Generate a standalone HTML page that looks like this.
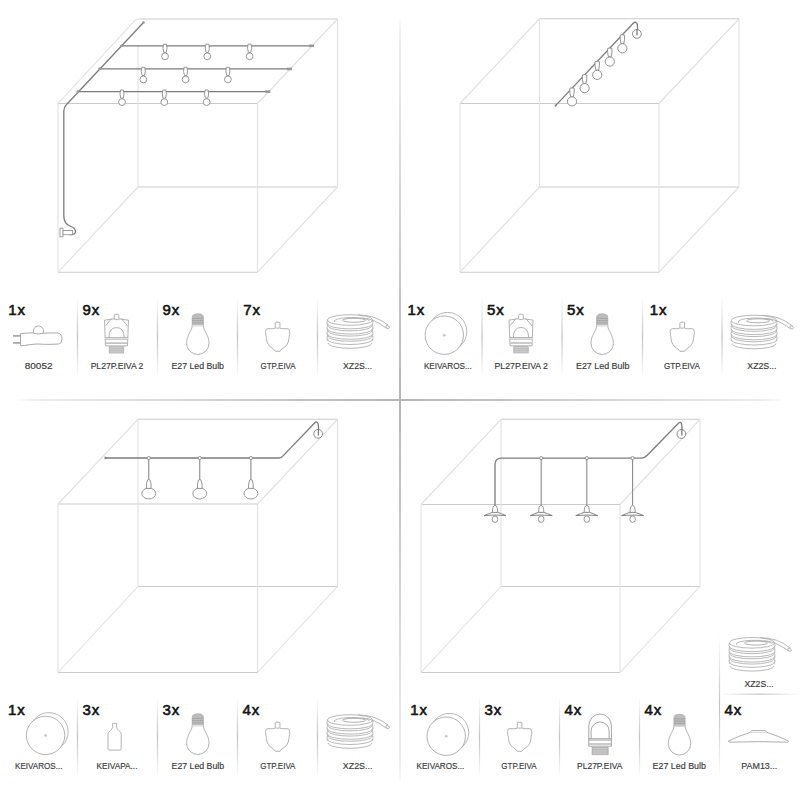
<!DOCTYPE html><html><head><meta charset="utf-8"><style>html,body{margin:0;padding:0;background:#fff;width:800px;height:800px;overflow:hidden}svg{display:block}.c{font-family:"Liberation Sans",sans-serif;font-size:15px;fill:#151515;stroke:#151515;stroke-width:0.6px;letter-spacing:0.9px}.l{font-family:"Liberation Sans",sans-serif;font-size:8.7px;fill:#383838;stroke:#383838;stroke-width:0.15px}</style></head><body>
<svg width="800" height="800" viewBox="0 0 800 800">
<defs><linearGradient id="gV" x1="0" y1="0" x2="0" y2="1"><stop offset="0" stop-color="#fcfcfc"/><stop offset="0.025" stop-color="#ededed"/><stop offset="0.107" stop-color="#e4e4e4"/><stop offset="0.5" stop-color="#b6b6b6"/><stop offset="0.893" stop-color="#e4e4e4"/><stop offset="0.975" stop-color="#ededed"/><stop offset="1" stop-color="#fcfcfc"/></linearGradient><linearGradient id="gH" x1="0" y1="0" x2="1" y2="0"><stop offset="0" stop-color="#fcfcfc"/><stop offset="0.025" stop-color="#ededed"/><stop offset="0.107" stop-color="#e4e4e4"/><stop offset="0.5" stop-color="#b6b6b6"/><stop offset="0.893" stop-color="#e4e4e4"/><stop offset="0.975" stop-color="#ededed"/><stop offset="1" stop-color="#fcfcfc"/></linearGradient><linearGradient id="gv" x1="0" y1="0" x2="0" y2="1"><stop offset="0" stop-color="#fff"/><stop offset="0.5" stop-color="#c2c2c2"/><stop offset="1" stop-color="#fff"/></linearGradient><linearGradient id="gh" x1="0" y1="0" x2="1" y2="0"><stop offset="0" stop-color="#fff"/><stop offset="0.5" stop-color="#c2c2c2"/><stop offset="1" stop-color="#fff"/></linearGradient></defs>
<rect width="800" height="800" fill="#fff"/>
<path d="M337.5 19 H139.5 M138 187 H337.5 M58 103.5 H257.5 M58 272.2 H257.5" stroke="#cbcbcb" stroke-width="1.1" fill="none"/>
<path d="M138 45 V187 M337.5 19 V187 M58 103.5 V272.2 M257.5 103.5 V272.2" stroke="#e2e2e2" stroke-width="1.1" fill="none"/>
<path d="M58 103.5 L134.5 21 Q136.5 19 139.5 19 M257.5 103.5L337.5 19M58 272.2L138 187M257.5 272.2L337.5 187" stroke="#e0e0e0" stroke-width="1.1" fill="none"/>
<path d="M539.5 18.75 H739 M539.5 187 H739 M460 103.5 H659 M460 272.2 H659" stroke="#cbcbcb" stroke-width="1.1" fill="none"/>
<path d="M539.5 18.75 V187 M739 18.75 V187 M460 103.5 V272.2 M659 103.5 V272.2" stroke="#e2e2e2" stroke-width="1.1" fill="none"/>
<path d="M460 103.5L539.5 18.75M659 103.5L739 18.75M460 272.2L539.5 187M659 272.2L739 187" stroke="#e0e0e0" stroke-width="1.1" fill="none"/>
<path d="M138 419.3 H337.5 M138 586.5 H337.5 M58 504 H257.5 M58 672.5 H257.5" stroke="#cbcbcb" stroke-width="1.1" fill="none"/>
<path d="M138 419.3 V586.5 M337.5 419.3 V586.5 M58 504 V672.5 M257.5 504 V672.5" stroke="#e2e2e2" stroke-width="1.1" fill="none"/>
<path d="M58 504L138 419.3M257.5 504L337.5 419.3M58 672.5L138 586.5M257.5 672.5L337.5 586.5" stroke="#e0e0e0" stroke-width="1.1" fill="none"/>
<path d="M501 419.3 H700 M501 586.5 H700 M421 504.5 H620 M421 672.5 H620" stroke="#cbcbcb" stroke-width="1.1" fill="none"/>
<path d="M501 419.3 V586.5 M700 419.3 V586.5 M421 504.5 V672.5 M620 504.5 V672.5" stroke="#e2e2e2" stroke-width="1.1" fill="none"/>
<path d="M421 504.5L501 419.3M620 504.5L700 419.3M421 672.5L501 586.5M620 672.5L700 586.5" stroke="#e0e0e0" stroke-width="1.1" fill="none"/>
<g fill="none" stroke="#7c7c7c" stroke-width="1.3" stroke-linecap="round">
<path d="M143.5 22.5 L66.5 104.5 Q63.8 107.5 63.8 111 L63.8 216 Q64 224 70 226 Q75.5 228 75.5 231.5 Q75.5 235 70 234.5"/>
<path d="M121.5 45.8 H313 M99.5 68.9 H291.5 M77.8 91.6 H269.5"/>
</g>
<rect x="309.0" y="44.5" width="5" height="2.6" fill="#999"/>
<rect x="287.0" y="67.60000000000001" width="5" height="2.6" fill="#999"/>
<rect x="265.3" y="90.3" width="5" height="2.6" fill="#999"/>
<circle cx="121.5" cy="45.8" r="1.3" fill="#999"/>
<circle cx="99.5" cy="68.9" r="1.3" fill="#999"/>
<circle cx="77.8" cy="91.6" r="1.3" fill="#999"/>
<circle cx="143.5" cy="22.5" r="1.3" fill="#999"/>
<g fill="#fff" stroke="#8a8a8a" stroke-width="0.9"><path d="M163.5 44.199999999999996 H166.5 Q167.7 48.3 166.2 52.4 H163.8 Q162.3 48.3 163.5 44.199999999999996 Z"/><circle cx="165.0" cy="56.3" r="3.4"/></g>
<g fill="#fff" stroke="#8a8a8a" stroke-width="0.9"><path d="M205.8 44.199999999999996 H208.8 Q210.0 48.3 208.5 52.4 H206.10000000000002 Q204.60000000000002 48.3 205.8 44.199999999999996 Z"/><circle cx="207.3" cy="56.3" r="3.4"/></g>
<g fill="#fff" stroke="#8a8a8a" stroke-width="0.9"><path d="M248.1 44.199999999999996 H251.1 Q252.29999999999998 48.3 250.79999999999998 52.4 H248.4 Q246.9 48.3 248.1 44.199999999999996 Z"/><circle cx="249.6" cy="56.3" r="3.4"/></g>
<g fill="#fff" stroke="#8a8a8a" stroke-width="0.9"><path d="M141.8 67.30000000000001 H144.8 Q146.0 71.4 144.5 75.5 H142.10000000000002 Q140.60000000000002 71.4 141.8 67.30000000000001 Z"/><circle cx="143.3" cy="79.4" r="3.4"/></g>
<g fill="#fff" stroke="#8a8a8a" stroke-width="0.9"><path d="M184.10000000000002 67.30000000000001 H187.10000000000002 Q188.3 71.4 186.8 75.5 H184.40000000000003 Q182.90000000000003 71.4 184.10000000000002 67.30000000000001 Z"/><circle cx="185.60000000000002" cy="79.4" r="3.4"/></g>
<g fill="#fff" stroke="#8a8a8a" stroke-width="0.9"><path d="M226.4 67.30000000000001 H229.4 Q230.6 71.4 229.1 75.5 H226.70000000000002 Q225.20000000000002 71.4 226.4 67.30000000000001 Z"/><circle cx="227.9" cy="79.4" r="3.4"/></g>
<g fill="#fff" stroke="#8a8a8a" stroke-width="0.9"><path d="M120.5 90.0 H123.5 Q124.7 94.1 123.2 98.19999999999999 H120.8 Q119.3 94.1 120.5 90.0 Z"/><circle cx="122.0" cy="102.1" r="3.4"/></g>
<g fill="#fff" stroke="#8a8a8a" stroke-width="0.9"><path d="M162.8 90.0 H165.8 Q167.0 94.1 165.5 98.19999999999999 H163.10000000000002 Q161.60000000000002 94.1 162.8 90.0 Z"/><circle cx="164.3" cy="102.1" r="3.4"/></g>
<g fill="#fff" stroke="#8a8a8a" stroke-width="0.9"><path d="M205.1 90.0 H208.1 Q209.29999999999998 94.1 207.79999999999998 98.19999999999999 H205.4 Q203.9 94.1 205.1 90.0 Z"/><circle cx="206.6" cy="102.1" r="3.4"/></g>
<g fill="#fff" stroke="#999" stroke-width="0.9"><rect x="60" y="228.2" width="3" height="8.6"/><rect x="63" y="230.5" width="9.5" height="4.2"/></g>
<path d="M555.6 105.6 L633 23.5 Q635.5 21 637 23.5 Q637.6 25 637.6 31" fill="none" stroke="#7c7c7c" stroke-width="1.3" stroke-linecap="round"/>
<circle cx="636.9" cy="33.9" r="4.4" fill="#fff" stroke="#8a8a8a" stroke-width="1"/>
<line x1="637" y1="29" x2="637" y2="35.5" stroke="#7c7c7c" stroke-width="1.3"/>
<circle cx="555.6" cy="105.6" r="1.1" fill="#888"/>
<g fill="#fff" stroke="#8a8a8a" stroke-width="0.95"><path d="M569.8 88.31440000000002 Q572.0 87.31440000000002 574.2 88.31440000000002 Q574.6 92.31440000000002 573.3 96.81440000000002 H570.7 Q569.4 92.31440000000002 569.8 88.31440000000002 Z"/><circle cx="572.0" cy="101.41440000000001" r="4.6"/></g>
<g fill="#fff" stroke="#8a8a8a" stroke-width="0.95"><path d="M582.4 75.03399999999999 Q584.6 74.03399999999999 586.8000000000001 75.03399999999999 Q587.2 79.03399999999999 585.9 83.53399999999999 H583.3000000000001 Q582.0 79.03399999999999 582.4 75.03399999999999 Z"/><circle cx="584.6" cy="88.13399999999999" r="4.6"/></g>
<g fill="#fff" stroke="#8a8a8a" stroke-width="0.95"><path d="M595.0 61.75359999999997 Q597.2 60.75359999999997 599.4000000000001 61.75359999999997 Q599.8000000000001 65.75359999999998 598.5 70.25359999999998 H595.9000000000001 Q594.6 65.75359999999998 595.0 61.75359999999997 Z"/><circle cx="597.2" cy="74.85359999999997" r="4.6"/></g>
<g fill="#fff" stroke="#8a8a8a" stroke-width="0.95"><path d="M607.5999999999999 48.47320000000006 Q609.8 47.47320000000006 612.0 48.47320000000006 Q612.4 52.47320000000006 611.0999999999999 56.97320000000006 H608.5 Q607.1999999999999 52.47320000000006 607.5999999999999 48.47320000000006 Z"/><circle cx="609.8" cy="61.573200000000064" r="4.6"/></g>
<g fill="#fff" stroke="#8a8a8a" stroke-width="0.95"><path d="M620.1999999999999 35.192800000000034 Q622.4 34.192800000000034 624.6 35.192800000000034 Q625.0 39.192800000000034 623.6999999999999 43.692800000000034 H621.1 Q619.8 39.192800000000034 620.1999999999999 35.192800000000034 Z"/><circle cx="622.4" cy="48.292800000000035" r="4.6"/></g>
<path d="M105.5 458 H279 Q281.5 458 283.3 455.6 L314.6 423 Q316.8 420.8 318 423.5 Q318.6 425 318.6 432" fill="none" stroke="#7c7c7c" stroke-width="1.3" stroke-linecap="round"/>
<circle cx="318.2" cy="433.8" r="4.4" fill="#fff" stroke="#8a8a8a" stroke-width="1"/>
<line x1="318.4" y1="429" x2="318.4" y2="435.5" stroke="#7c7c7c" stroke-width="1.3"/>
<path d="M104.5 456.6 L109 458 L104.5 459.4 Z" fill="#888"/>
<g stroke="#8a8a8a" stroke-width="0.9" fill="#fff"><line x1="148.75" y1="458" x2="148.75" y2="480.5" stroke="#8a8a8a" stroke-width="1.1"/><circle cx="148.75" cy="458" r="1.6"/><ellipse cx="148.75" cy="493.5" rx="6.9" ry="5.5"/><path d="M147.55 480 Q148.75 479 149.95 480 Q151.55 483.5 151.05 488.4 H146.45 Q145.95 483.5 147.55 480 Z"/></g>
<g stroke="#8a8a8a" stroke-width="0.9" fill="#fff"><line x1="199.75" y1="458" x2="199.75" y2="480.5" stroke="#8a8a8a" stroke-width="1.1"/><circle cx="199.75" cy="458" r="1.6"/><ellipse cx="199.75" cy="493.5" rx="6.9" ry="5.5"/><path d="M198.55 480 Q199.75 479 200.95 480 Q202.55 483.5 202.05 488.4 H197.45 Q196.95 483.5 198.55 480 Z"/></g>
<g stroke="#8a8a8a" stroke-width="0.9" fill="#fff"><line x1="250.9" y1="458" x2="250.9" y2="480.5" stroke="#8a8a8a" stroke-width="1.1"/><circle cx="250.9" cy="458" r="1.6"/><ellipse cx="250.9" cy="493.5" rx="6.9" ry="5.5"/><path d="M249.70000000000002 480 Q250.9 479 252.1 480 Q253.70000000000002 483.5 253.20000000000002 488.4 H248.6 Q248.1 483.5 249.70000000000002 480 Z"/></g>
<path d="M495 505.4 V464.5 Q495 458.1 501.5 458.1 H641.5 Q644.5 458.1 647 455.5 L678.2 423.5 Q680.5 421 681.5 424 Q682 425.5 682 431.5" fill="none" stroke="#7c7c7c" stroke-width="1.3" stroke-linecap="round"/>
<circle cx="681.4" cy="434" r="4.4" fill="#fff" stroke="#8a8a8a" stroke-width="1"/>
<line x1="681.8" y1="429" x2="681.8" y2="435.5" stroke="#7c7c7c" stroke-width="1.3"/>
<ellipse cx="495" cy="519.1999999999999" rx="2.8" ry="3.2" fill="#fff" stroke="#8a8a8a" stroke-width="0.9"/><path d="M492.4 512.4 Q492.4 505.4 495 505.4 Q497.6 505.4 497.6 512.4" fill="#fff" stroke="#8a8a8a" stroke-width="0.9"/><path d="M484 515.6 Q489 513.4 492.4 512.4 H497.6 Q501 513.4 506 515.6 Q495 514.4 484 515.6 Z" fill="#fff" stroke="#777" stroke-width="0.9"/>
<line x1="541.2" y1="458.1" x2="541.2" y2="505.4" stroke="#8a8a8a" stroke-width="1.1"/><circle cx="541.2" cy="458.1" r="1.6" fill="#fff" stroke="#8a8a8a" stroke-width="0.9"/><ellipse cx="541.2" cy="519.1999999999999" rx="2.8" ry="3.2" fill="#fff" stroke="#8a8a8a" stroke-width="0.9"/><path d="M538.6 512.4 Q538.6 505.4 541.2 505.4 Q543.8000000000001 505.4 543.8000000000001 512.4" fill="#fff" stroke="#8a8a8a" stroke-width="0.9"/><path d="M530.2 515.6 Q535.2 513.4 538.6 512.4 H543.8000000000001 Q547.2 513.4 552.2 515.6 Q541.2 514.4 530.2 515.6 Z" fill="#fff" stroke="#777" stroke-width="0.9"/>
<line x1="586.8" y1="458.1" x2="586.8" y2="505.4" stroke="#8a8a8a" stroke-width="1.1"/><circle cx="586.8" cy="458.1" r="1.6" fill="#fff" stroke="#8a8a8a" stroke-width="0.9"/><ellipse cx="586.8" cy="519.1999999999999" rx="2.8" ry="3.2" fill="#fff" stroke="#8a8a8a" stroke-width="0.9"/><path d="M584.1999999999999 512.4 Q584.1999999999999 505.4 586.8 505.4 Q589.4 505.4 589.4 512.4" fill="#fff" stroke="#8a8a8a" stroke-width="0.9"/><path d="M575.8 515.6 Q580.8 513.4 584.1999999999999 512.4 H589.4 Q592.8 513.4 597.8 515.6 Q586.8 514.4 575.8 515.6 Z" fill="#fff" stroke="#777" stroke-width="0.9"/>
<line x1="632.6" y1="458.1" x2="632.6" y2="505.4" stroke="#8a8a8a" stroke-width="1.1"/><circle cx="632.6" cy="458.1" r="1.6" fill="#fff" stroke="#8a8a8a" stroke-width="0.9"/><ellipse cx="632.6" cy="519.1999999999999" rx="2.8" ry="3.2" fill="#fff" stroke="#8a8a8a" stroke-width="0.9"/><path d="M630.0 512.4 Q630.0 505.4 632.6 505.4 Q635.2 505.4 635.2 512.4" fill="#fff" stroke="#8a8a8a" stroke-width="0.9"/><path d="M621.6 515.6 Q626.6 513.4 630.0 512.4 H635.2 Q638.6 513.4 643.6 515.6 Q632.6 514.4 621.6 515.6 Z" fill="#fff" stroke="#777" stroke-width="0.9"/>
<rect x="399" y="18" width="2" height="764" fill="url(#gV)"/>
<rect x="18" y="399" width="764" height="2" fill="url(#gH)"/>
<rect x="76.9" y="296.5" width="1.2" height="82.0" fill="url(#gv)"/>
<rect x="156.9" y="296.5" width="1.2" height="82.0" fill="url(#gv)"/>
<rect x="236.9" y="296.5" width="1.2" height="82.0" fill="url(#gv)"/>
<rect x="316.9" y="296.5" width="1.2" height="82.0" fill="url(#gv)"/>
<text x="8.2" y="315.0" class="c">1x</text>
<text x="82.5" y="315.0" class="c">9x</text>
<text x="162.5" y="315.0" class="c">9x</text>
<text x="243.2" y="315.0" class="c">7x</text>
<g transform="translate(37.5 325)"><g fill="none" stroke="#a9a9a9" stroke-width="1"><path d="M-17 8.5 Q-10 8 -3.5 7.8 M5.6 8.2 Q14 7.8 20 8 Q24.5 8.5 24.5 14 Q24.5 18.5 21 19 Q13 19.5 7 19.3 Q0 18.5 -8 19.6 Q-13 21 -17 20.7 L-17 8.5"/><path d="M-3.6 8.4 A5.1 5.1 0 1 1 5.6 8.2 Q1 9.6 -3.6 8.4 Z"/></g><path d="M-24.5 10.8H-17M-24.5 17.8H-17" stroke="#a8a8a8" stroke-width="1.8"/></g>
<g transform="translate(116.5 314.4)"><g fill="none" stroke="#a9a9a9" stroke-width="0.9"><rect x="-2.3" y="0" width="4.6" height="5.2" rx="0.8"/><path d="M-2.3 4.4 L-12 5.8 L-11.3 23.2 M2.3 4.4 L12 5.8 L11.3 23.2"/><path d="M-4.8 4.1 L-11 11.5 M4.8 4.1 L11 11.5"/><path d="M-7.6 23.2 Q-7.6 13.2 0 13.2 Q7.6 13.2 7.6 23.2"/><path d="M-11.8 23.2 H11.8 M-11.8 24.8 H11.8" /><path d="M-11.3 24.8 L-11 31.5 H11 L11.3 24.8"/></g><path d="M-10.5 28.7 H10.5" stroke="#999" stroke-width="1"/><rect x="-7.2" y="32.4" width="14.4" height="6.2" fill="#d2d2d2" stroke="#aaa" stroke-width="0.8"/><path d="M-7.2 34.4H7.2M-7.2 36.4H7.2" stroke="#aaa" stroke-width="0.7"/></g>
<g transform="translate(197.8 313.8)"><path d="M-5.6 12 V3.6 Q-5.6 0 0 0 Q5.6 0 5.6 3.6 V12 Z" fill="#bdbdbd" stroke="#a8a8a8" stroke-width="0.7"/><path d="M-5.6 4.5H5.6M-5.6 6.8H5.6M-5.6 9.1H5.6" stroke="#a0a0a0" stroke-width="0.8"/><path d="M-5.6 11.8 H5.6" stroke="#e6e6e6" stroke-width="1"/><path d="M-5.6 12 C-5.6 17 -11.2 21 -11.2 29.5 A11.2 11.2 0 0 0 11.2 29.5 C11.2 21 5.6 17 5.6 12" fill="none" stroke="#a9a9a9" stroke-width="0.9"/></g>
<g transform="translate(277.6 322.3)"><g fill="none" stroke="#a9a9a9" stroke-width="0.9"><rect x="-2.3" y="0" width="4.6" height="5.8" rx="0.6"/><path d="M-2.3 5.8 Q-5 7 -9.5 6.3 Q-12.1 6.3 -12.1 9 L-11.6 13.5 Q-10.8 15 -11.2 16.5 Q-10.5 23.5 -4 26.8 L-2.4 29 H2.4 L4 26.8 Q10.8 23.5 11.3 16.5 Q11.6 13.5 12.1 12 L12.1 9 Q12.1 6.3 9.5 6.3 Q5 7 2.3 5.8"/></g></g>
<g transform="translate(350 314.5)"><g fill="none" stroke="#ababab" stroke-width="0.85"><path d="M-22.5 9.10 A22.5 5.3 0 0 0 22.5 9.10"/><path d="M-21.9 11.10 A21.9 5.3 0 0 0 21.9 11.10"/><path d="M-22.5 14.30 A22.5 5.3 0 0 0 22.5 14.30"/><path d="M-21.9 16.30 A21.9 5.3 0 0 0 21.9 16.30"/><path d="M-22.5 19.50 A22.5 5.3 0 0 0 22.5 19.50"/><path d="M-21.9 21.50 A21.9 5.3 0 0 0 21.9 21.50"/><path d="M-22.5 24.70 A22.5 5.3 0 0 0 22.5 24.70"/><path d="M-21.9 28.50 A21.9 5.3 0 0 0 21.9 28.50"/><path d="M-22.5 5.50 Q-23.5 8.10 -22.5 10.70 M22.5 5.50 Q23.5 8.10 22.5 10.70"/><path d="M-22.5 10.70 Q-23.5 13.30 -22.5 15.90 M22.5 10.70 Q23.5 13.30 22.5 15.90"/><path d="M-22.5 15.90 Q-23.5 18.50 -22.5 21.10 M22.5 15.90 Q23.5 18.50 22.5 21.10"/><path d="M-22.5 21.10 Q-23.5 23.70 -22.5 26.30 M22.5 21.10 Q23.5 23.70 22.5 26.30"/><ellipse cx="0" cy="5.5" rx="22.5" ry="5.3" fill="#fff"/><path d="M-15.5 7.5 A17.5 3.8 0 1 1 19.5 6.2"/><ellipse cx="4" cy="5.8" rx="11.5" ry="2" stroke="#a0a0a0"/><path d="M8 0.3 Q26 0.5 38.5 11 M12 3.4 Q24 4 36.6 13.9"/><ellipse cx="37.6" cy="12.4" rx="1.3" ry="2" transform="rotate(-50 37.6 12.4)"/></g></g>
<text x="24.80" y="368.8" class="l" textLength="27.65" lengthAdjust="spacingAndGlyphs">80052</text>
<text x="90.65" y="368.8" class="l" textLength="52.70" lengthAdjust="spacingAndGlyphs">PL27P.EIVA 2</text>
<text x="171.45" y="368.8" class="l" textLength="52.50" lengthAdjust="spacingAndGlyphs">E27 Led Bulb</text>
<text x="260.55" y="368.8" class="l" textLength="35.10" lengthAdjust="spacingAndGlyphs">GTP.EIVA</text>
<text x="343.05" y="368.8" class="l" textLength="29.00" lengthAdjust="spacingAndGlyphs">XZ2S...</text>
<rect x="481.4" y="296.5" width="1.2" height="82.0" fill="url(#gv)"/>
<rect x="561.4" y="296.5" width="1.2" height="82.0" fill="url(#gv)"/>
<rect x="641.9" y="296.5" width="1.2" height="82.0" fill="url(#gv)"/>
<rect x="721.4" y="296.5" width="1.2" height="82.0" fill="url(#gv)"/>
<text x="407.5" y="315.0" class="c">1x</text>
<text x="487" y="315.0" class="c">5x</text>
<text x="567" y="315.0" class="c">5x</text>
<text x="649.7" y="315.0" class="c">1x</text>
<g transform="translate(444.3 335.2)"><circle cx="3.3" cy="-3.6" r="19.2" fill="none" stroke="#b0b0b0" stroke-width="0.9"/><circle cx="0" cy="0" r="19.2" fill="#fff" stroke="#a9a9a9" stroke-width="0.9"/><circle cx="0" cy="0" r="1.3" fill="#c4c4c4"/></g>
<g transform="translate(521 314.3)"><g fill="none" stroke="#a9a9a9" stroke-width="0.9"><rect x="-2.3" y="0" width="4.6" height="5.2" rx="0.8"/><path d="M-2.3 4.4 L-12 5.8 L-11.3 23.2 M2.3 4.4 L12 5.8 L11.3 23.2"/><path d="M-4.8 4.1 L-11 11.5 M4.8 4.1 L11 11.5"/><path d="M-7.6 23.2 Q-7.6 13.2 0 13.2 Q7.6 13.2 7.6 23.2"/><path d="M-11.8 23.2 H11.8 M-11.8 24.8 H11.8" /><path d="M-11.3 24.8 L-11 31.5 H11 L11.3 24.8"/></g><path d="M-10.5 28.7 H10.5" stroke="#999" stroke-width="1"/><rect x="-7.2" y="32.4" width="14.4" height="6.2" fill="#d2d2d2" stroke="#aaa" stroke-width="0.8"/><path d="M-7.2 34.4H7.2M-7.2 36.4H7.2" stroke="#aaa" stroke-width="0.7"/></g>
<g transform="translate(602.2 313.8)"><path d="M-5.6 12 V3.6 Q-5.6 0 0 0 Q5.6 0 5.6 3.6 V12 Z" fill="#bdbdbd" stroke="#a8a8a8" stroke-width="0.7"/><path d="M-5.6 4.5H5.6M-5.6 6.8H5.6M-5.6 9.1H5.6" stroke="#a0a0a0" stroke-width="0.8"/><path d="M-5.6 11.8 H5.6" stroke="#e6e6e6" stroke-width="1"/><path d="M-5.6 12 C-5.6 17 -11.2 21 -11.2 29.5 A11.2 11.2 0 0 0 11.2 29.5 C11.2 21 5.6 17 5.6 12" fill="none" stroke="#a9a9a9" stroke-width="0.9"/></g>
<g transform="translate(682.2 322.3)"><g fill="none" stroke="#a9a9a9" stroke-width="0.9"><rect x="-2.3" y="0" width="4.6" height="5.8" rx="0.6"/><path d="M-2.3 5.8 Q-5 7 -9.5 6.3 Q-12.1 6.3 -12.1 9 L-11.6 13.5 Q-10.8 15 -11.2 16.5 Q-10.5 23.5 -4 26.8 L-2.4 29 H2.4 L4 26.8 Q10.8 23.5 11.3 16.5 Q11.6 13.5 12.1 12 L12.1 9 Q12.1 6.3 9.5 6.3 Q5 7 2.3 5.8"/></g></g>
<g transform="translate(754 315)"><g fill="none" stroke="#ababab" stroke-width="0.85"><path d="M-22.5 9.10 A22.5 5.3 0 0 0 22.5 9.10"/><path d="M-21.9 11.10 A21.9 5.3 0 0 0 21.9 11.10"/><path d="M-22.5 14.30 A22.5 5.3 0 0 0 22.5 14.30"/><path d="M-21.9 16.30 A21.9 5.3 0 0 0 21.9 16.30"/><path d="M-22.5 19.50 A22.5 5.3 0 0 0 22.5 19.50"/><path d="M-21.9 21.50 A21.9 5.3 0 0 0 21.9 21.50"/><path d="M-22.5 24.70 A22.5 5.3 0 0 0 22.5 24.70"/><path d="M-21.9 28.50 A21.9 5.3 0 0 0 21.9 28.50"/><path d="M-22.5 5.50 Q-23.5 8.10 -22.5 10.70 M22.5 5.50 Q23.5 8.10 22.5 10.70"/><path d="M-22.5 10.70 Q-23.5 13.30 -22.5 15.90 M22.5 10.70 Q23.5 13.30 22.5 15.90"/><path d="M-22.5 15.90 Q-23.5 18.50 -22.5 21.10 M22.5 15.90 Q23.5 18.50 22.5 21.10"/><path d="M-22.5 21.10 Q-23.5 23.70 -22.5 26.30 M22.5 21.10 Q23.5 23.70 22.5 26.30"/><ellipse cx="0" cy="5.5" rx="22.5" ry="5.3" fill="#fff"/><path d="M-15.5 7.5 A17.5 3.8 0 1 1 19.5 6.2"/><ellipse cx="4" cy="5.8" rx="11.5" ry="2" stroke="#a0a0a0"/><path d="M8 0.3 Q26 0.5 38.5 11 M12 3.4 Q24 4 36.6 13.9"/><ellipse cx="37.6" cy="12.4" rx="1.3" ry="2" transform="rotate(-50 37.6 12.4)"/></g></g>
<text x="423.95" y="368.8" class="l" textLength="47.75" lengthAdjust="spacingAndGlyphs">KEIVAROS...</text>
<text x="494.55" y="368.8" class="l" textLength="53.40" lengthAdjust="spacingAndGlyphs">PL27P.EIVA 2</text>
<text x="575.95" y="368.8" class="l" textLength="53.50" lengthAdjust="spacingAndGlyphs">E27 Led Bulb</text>
<text x="663.95" y="368.8" class="l" textLength="35.90" lengthAdjust="spacingAndGlyphs">GTP.EIVA</text>
<text x="747.35" y="368.8" class="l" textLength="29.10" lengthAdjust="spacingAndGlyphs">XZ2S...</text>
<rect x="76.9" y="696.5" width="1.2" height="82.0" fill="url(#gv)"/>
<rect x="156.9" y="696.5" width="1.2" height="82.0" fill="url(#gv)"/>
<rect x="236.9" y="696.5" width="1.2" height="82.0" fill="url(#gv)"/>
<rect x="316.9" y="696.5" width="1.2" height="82.0" fill="url(#gv)"/>
<text x="8.0" y="715.0" class="c">1x</text>
<text x="82.5" y="715.0" class="c">3x</text>
<text x="162.5" y="715.0" class="c">3x</text>
<text x="242.5" y="715.0" class="c">4x</text>
<g transform="translate(45.6 735.4)"><circle cx="3.3" cy="-3.6" r="19.2" fill="none" stroke="#b0b0b0" stroke-width="0.9"/><circle cx="0" cy="0" r="19.2" fill="#fff" stroke="#a9a9a9" stroke-width="0.9"/><circle cx="0" cy="0" r="1.3" fill="#c4c4c4"/></g>
<g transform="translate(114.6 723.3)"><path d="M-2 0 H2 V4 Q2 5.5 4.5 7.5 Q6.6 9 6.6 11 V25.5 Q6.6 26.8 5.3 26.8 H-5.3 Q-6.6 26.8 -6.6 25.5 V11 Q-6.6 9 -4.5 7.5 Q-2 5.5 -2 4 Z" fill="none" stroke="#a9a9a9" stroke-width="0.9"/></g>
<g transform="translate(197.8 713.8)"><path d="M-5.6 12 V3.6 Q-5.6 0 0 0 Q5.6 0 5.6 3.6 V12 Z" fill="#bdbdbd" stroke="#a8a8a8" stroke-width="0.7"/><path d="M-5.6 4.5H5.6M-5.6 6.8H5.6M-5.6 9.1H5.6" stroke="#a0a0a0" stroke-width="0.8"/><path d="M-5.6 11.8 H5.6" stroke="#e6e6e6" stroke-width="1"/><path d="M-5.6 12 C-5.6 17 -11.2 21 -11.2 29.5 A11.2 11.2 0 0 0 11.2 29.5 C11.2 21 5.6 17 5.6 12" fill="none" stroke="#a9a9a9" stroke-width="0.9"/></g>
<g transform="translate(277.6 722.3)"><g fill="none" stroke="#a9a9a9" stroke-width="0.9"><rect x="-2.3" y="0" width="4.6" height="5.8" rx="0.6"/><path d="M-2.3 5.8 Q-5 7 -9.5 6.3 Q-12.1 6.3 -12.1 9 L-11.6 13.5 Q-10.8 15 -11.2 16.5 Q-10.5 23.5 -4 26.8 L-2.4 29 H2.4 L4 26.8 Q10.8 23.5 11.3 16.5 Q11.6 13.5 12.1 12 L12.1 9 Q12.1 6.3 9.5 6.3 Q5 7 2.3 5.8"/></g></g>
<g transform="translate(350 714.5)"><g fill="none" stroke="#ababab" stroke-width="0.85"><path d="M-22.5 9.10 A22.5 5.3 0 0 0 22.5 9.10"/><path d="M-21.9 11.10 A21.9 5.3 0 0 0 21.9 11.10"/><path d="M-22.5 14.30 A22.5 5.3 0 0 0 22.5 14.30"/><path d="M-21.9 16.30 A21.9 5.3 0 0 0 21.9 16.30"/><path d="M-22.5 19.50 A22.5 5.3 0 0 0 22.5 19.50"/><path d="M-21.9 21.50 A21.9 5.3 0 0 0 21.9 21.50"/><path d="M-22.5 24.70 A22.5 5.3 0 0 0 22.5 24.70"/><path d="M-21.9 28.50 A21.9 5.3 0 0 0 21.9 28.50"/><path d="M-22.5 5.50 Q-23.5 8.10 -22.5 10.70 M22.5 5.50 Q23.5 8.10 22.5 10.70"/><path d="M-22.5 10.70 Q-23.5 13.30 -22.5 15.90 M22.5 10.70 Q23.5 13.30 22.5 15.90"/><path d="M-22.5 15.90 Q-23.5 18.50 -22.5 21.10 M22.5 15.90 Q23.5 18.50 22.5 21.10"/><path d="M-22.5 21.10 Q-23.5 23.70 -22.5 26.30 M22.5 21.10 Q23.5 23.70 22.5 26.30"/><ellipse cx="0" cy="5.5" rx="22.5" ry="5.3" fill="#fff"/><path d="M-15.5 7.5 A17.5 3.8 0 1 1 19.5 6.2"/><ellipse cx="4" cy="5.8" rx="11.5" ry="2" stroke="#a0a0a0"/><path d="M8 0.3 Q26 0.5 38.5 11 M12 3.4 Q24 4 36.6 13.9"/><ellipse cx="37.6" cy="12.4" rx="1.3" ry="2" transform="rotate(-50 37.6 12.4)"/></g></g>
<text x="15.05" y="769.0" class="l" textLength="47.40" lengthAdjust="spacingAndGlyphs">KEIVAROS...</text>
<text x="96.55" y="769.0" class="l" textLength="40.90" lengthAdjust="spacingAndGlyphs">KEIVAPA...</text>
<text x="171.55" y="769.0" class="l" textLength="52.50" lengthAdjust="spacingAndGlyphs">E27 Led Bulb</text>
<text x="260.30" y="769.0" class="l" textLength="35.15" lengthAdjust="spacingAndGlyphs">GTP.EIVA</text>
<text x="342.80" y="769.0" class="l" textLength="29.65" lengthAdjust="spacingAndGlyphs">XZ2S...</text>
<rect x="478.9" y="696.5" width="1.2" height="82.0" fill="url(#gv)"/>
<rect x="558.9" y="696.5" width="1.2" height="82.0" fill="url(#gv)"/>
<rect x="638.9" y="696.5" width="1.2" height="82.0" fill="url(#gv)"/>
<rect x="718.9" y="635" width="1.2" height="143.5" fill="url(#gv)"/>
<rect x="720" y="693.6" width="80" height="1.2" fill="url(#gh)"/>
<text x="410.3" y="715.0" class="c">1x</text>
<text x="484.5" y="715.0" class="c">3x</text>
<text x="564.5" y="715.0" class="c">4x</text>
<text x="644.5" y="715.0" class="c">4x</text>
<text x="724.5" y="715.0" class="c">4x</text>
<g transform="translate(446.2 736.2)"><circle cx="3.3" cy="-3.6" r="19.2" fill="none" stroke="#b0b0b0" stroke-width="0.9"/><circle cx="0" cy="0" r="19.2" fill="#fff" stroke="#a9a9a9" stroke-width="0.9"/><circle cx="0" cy="0" r="1.3" fill="#c4c4c4"/></g>
<g transform="translate(519.6 722.3)"><g fill="none" stroke="#a9a9a9" stroke-width="0.9"><rect x="-2.3" y="0" width="4.6" height="5.8" rx="0.6"/><path d="M-2.3 5.8 Q-5 7 -9.5 6.3 Q-12.1 6.3 -12.1 9 L-11.6 13.5 Q-10.8 15 -11.2 16.5 Q-10.5 23.5 -4 26.8 L-2.4 29 H2.4 L4 26.8 Q10.8 23.5 11.3 16.5 Q11.6 13.5 12.1 12 L12.1 9 Q12.1 6.3 9.5 6.3 Q5 7 2.3 5.8"/></g></g>
<g transform="translate(600.1 714)"><g fill="none" stroke="#9c9c9c" stroke-width="0.9"><path d="M-11.3 32.2 V12 A11.3 12 0 0 1 11.3 12 V32.2 Z"/><path d="M-9 24.7 V17 A9 9 0 0 1 9 17 V24.7"/><path d="M-11.3 24.7 H11.3 M-11.3 26.1 H11.3"/></g><path d="M-11 30 H11" stroke="#999" stroke-width="1"/><rect x="-8" y="33.5" width="16" height="7.2" fill="#d0d0d0" stroke="#aaa" stroke-width="0.8"/><path d="M-8 35.3H8M-8 37.1H8M-8 38.9H8" stroke="#a5a5a5" stroke-width="0.6"/></g>
<g transform="translate(679.5 714.3)"><path d="M-5.6 12 V3.6 Q-5.6 0 0 0 Q5.6 0 5.6 3.6 V12 Z" fill="#bdbdbd" stroke="#a8a8a8" stroke-width="0.7"/><path d="M-5.6 4.5H5.6M-5.6 6.8H5.6M-5.6 9.1H5.6" stroke="#a0a0a0" stroke-width="0.8"/><path d="M-5.6 11.8 H5.6" stroke="#e6e6e6" stroke-width="1"/><path d="M-5.6 12 C-5.6 17 -11.2 21 -11.2 29.5 A11.2 11.2 0 0 0 11.2 29.5 C11.2 21 5.6 17 5.6 12" fill="none" stroke="#a9a9a9" stroke-width="0.9"/></g>
<g transform="translate(758.5 730)"><path d="M-7 0.6 H7 L8.5 2.4 Q20 6 30.3 11.2 Q30 12.3 28 12.2 Q0 11 -28 12.2 Q-30 12.3 -30.3 11.2 Q-20 6 -8.5 2.4 Z" fill="none" stroke="#a5a5a5" stroke-width="0.9"/><path d="M-8.5 2.4 H8.5" stroke="#c0c0c0" stroke-width="0.6"/></g>
<g transform="translate(752 637.3)"><g fill="none" stroke="#ababab" stroke-width="0.85"><path d="M-22.5 9.10 A22.5 5.3 0 0 0 22.5 9.10"/><path d="M-21.9 11.10 A21.9 5.3 0 0 0 21.9 11.10"/><path d="M-22.5 14.30 A22.5 5.3 0 0 0 22.5 14.30"/><path d="M-21.9 16.30 A21.9 5.3 0 0 0 21.9 16.30"/><path d="M-22.5 19.50 A22.5 5.3 0 0 0 22.5 19.50"/><path d="M-21.9 21.50 A21.9 5.3 0 0 0 21.9 21.50"/><path d="M-22.5 24.70 A22.5 5.3 0 0 0 22.5 24.70"/><path d="M-21.9 28.50 A21.9 5.3 0 0 0 21.9 28.50"/><path d="M-22.5 5.50 Q-23.5 8.10 -22.5 10.70 M22.5 5.50 Q23.5 8.10 22.5 10.70"/><path d="M-22.5 10.70 Q-23.5 13.30 -22.5 15.90 M22.5 10.70 Q23.5 13.30 22.5 15.90"/><path d="M-22.5 15.90 Q-23.5 18.50 -22.5 21.10 M22.5 15.90 Q23.5 18.50 22.5 21.10"/><path d="M-22.5 21.10 Q-23.5 23.70 -22.5 26.30 M22.5 21.10 Q23.5 23.70 22.5 26.30"/><ellipse cx="0" cy="5.5" rx="22.5" ry="5.3" fill="#fff"/><path d="M-15.5 7.5 A17.5 3.8 0 1 1 19.5 6.2"/><ellipse cx="4" cy="5.8" rx="11.5" ry="2" stroke="#a0a0a0"/><path d="M8 0.3 Q26 0.5 38.5 11 M12 3.4 Q24 4 36.6 13.9"/><ellipse cx="37.6" cy="12.4" rx="1.3" ry="2" transform="rotate(-50 37.6 12.4)"/></g></g>
<text x="416.55" y="769.0" class="l" textLength="47.65" lengthAdjust="spacingAndGlyphs">KEIVAROS...</text>
<text x="501.30" y="769.0" class="l" textLength="35.40" lengthAdjust="spacingAndGlyphs">GTP.EIVA</text>
<text x="577.05" y="769.0" class="l" textLength="45.40" lengthAdjust="spacingAndGlyphs">PL27P.EIVA</text>
<text x="652.55" y="769.0" class="l" textLength="53.40" lengthAdjust="spacingAndGlyphs">E27 Led Bulb</text>
<text x="741.30" y="769.0" class="l" textLength="35.90" lengthAdjust="spacingAndGlyphs">PAM13...</text>
<text x="744.55" y="687" class="l" textLength="28.90" lengthAdjust="spacingAndGlyphs">XZ2S...</text>
</svg></body></html>
